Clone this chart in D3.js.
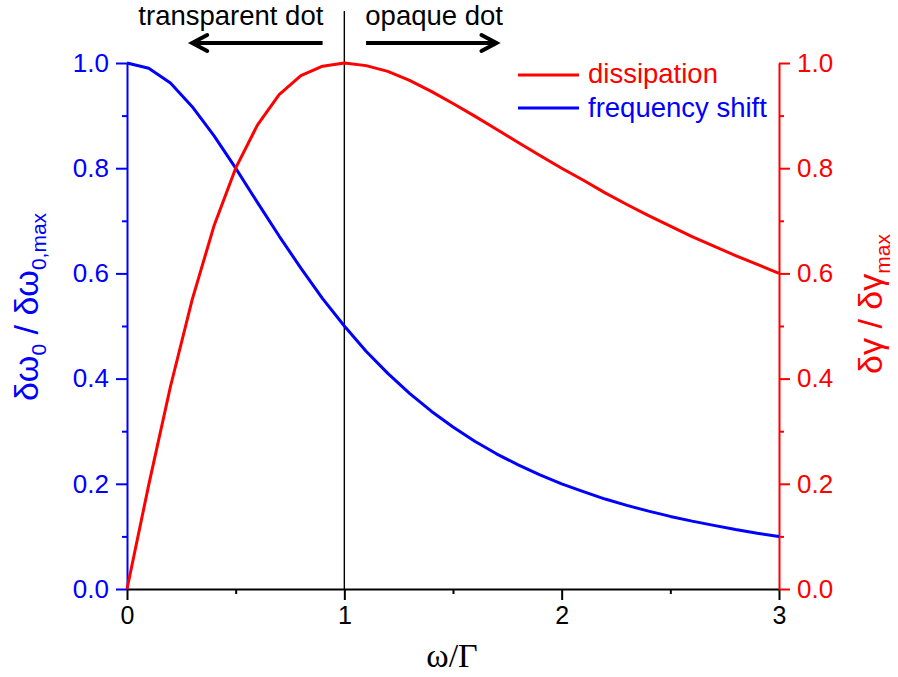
<!DOCTYPE html>
<html>
<head>
<meta charset="utf-8">
<script src="https://cdn.jsdelivr.net/npm/d3@7"></script>
<style>
  html, body { margin: 0; padding: 0; background: #fff; }
  svg { display: block; }
  text { font-family: Arial, "Liberation Sans", sans-serif; }
  text.serif { font-family: "Liberation Serif", "DejaVu Serif", serif; }
</style>
</head>
<body>
<svg id="chart" width="898" height="677"></svg>
<script>
// ω/Γ sample points
const omega = [0, 0.1, 0.2, 0.3, 0.4, 0.5, 0.6, 0.7, 0.8, 0.9,
               1.0, 1.1, 1.2, 1.3, 1.4, 1.5, 1.6, 1.7, 1.8, 1.9,
               2.0, 2.1, 2.2, 2.3, 2.4, 2.5, 2.6, 2.7, 2.8, 2.9, 3.0];
// normalised frequency shift δω0 / δω0,max
const freqShift = [1.000, 0.990, 0.962, 0.917, 0.862, 0.800, 0.735, 0.671, 0.610, 0.552,
                   0.500, 0.452, 0.410, 0.372, 0.338, 0.308, 0.281, 0.257, 0.236, 0.217,
                   0.200, 0.185, 0.171, 0.159, 0.148, 0.138, 0.129, 0.121, 0.113, 0.106, 0.100];
// normalised dissipation δγ / δγmax
const dissipation = [0.000, 0.198, 0.385, 0.550, 0.690, 0.800, 0.882, 0.940, 0.976, 0.994,
                     1.000, 0.995, 0.984, 0.967, 0.946, 0.923, 0.899, 0.874, 0.849, 0.824,
                     0.800, 0.777, 0.753, 0.731, 0.710, 0.690, 0.670, 0.652, 0.634, 0.617, 0.600];
const xTicks = [0, 1, 2, 3];
const xMinorTicks = [0.5, 1.5, 2.5];
const yTicks = [0, 0.2, 0.4, 0.6, 0.8, 1.0];
const yMinorTicks = [0.1, 0.3, 0.5, 0.7, 0.9];
const legendLabels = ["dissipation", "frequency shift"];
const regionLabels = ["transparent dot", "opaque dot"];

const BLUE = "#0000ff", RED = "#ff0000";
const svg = d3.select("#chart");
const m = { left: 127, top: 63, right: 779, bottom: 589 };

const x = d3.scaleLinear().domain([0, 3]).range([m.left, m.right]);
const yL = d3.scaleLinear().domain([0, 1]).range([m.bottom, m.top]);
const yR = d3.scaleLinear().domain([0, 1]).range([m.bottom, m.top]);

// axis helper: major ticks with labels, minor ticks without
function styleAxis(g, color) {
  g.selectAll("path.domain").attr("stroke", color).attr("stroke-width", 2);
  g.selectAll(".tick line").attr("stroke", color).attr("stroke-width", 2);
  g.selectAll(".tick text").attr("fill", color).attr("font-size", 26)
    .attr("font-family", "Arial, 'Liberation Sans', sans-serif");
}

// bottom axis
const gx = svg.append("g").attr("transform", `translate(0,${m.bottom})`)
  .call(d3.axisBottom(x).tickValues(xTicks).tickFormat(d3.format("d"))
    .tickSize(11).tickSizeOuter(0).tickPadding(6));
styleAxis(gx, "#000");
gx.selectAll(".tick text").attr("font-size", 25);
svg.append("g").attr("transform", `translate(0,${m.bottom})`)
  .call(d3.axisBottom(x).tickValues(xMinorTicks).tickFormat("").tickSize(5).tickSizeOuter(0))
  .call(g => { g.select("path.domain").remove(); g.selectAll(".tick line").attr("stroke", "#000").attr("stroke-width", 2); });

// left axis
const gl = svg.append("g").attr("transform", `translate(${m.left},0)`)
  .call(d3.axisLeft(yL).tickValues(yTicks).tickFormat(d3.format(".1f"))
    .tickSize(11).tickSizeOuter(0).tickPadding(7));
styleAxis(gl, BLUE);
svg.append("g").attr("transform", `translate(${m.left},0)`)
  .call(d3.axisLeft(yL).tickValues(yMinorTicks).tickFormat("").tickSize(5).tickSizeOuter(0))
  .call(g => { g.select("path.domain").remove(); g.selectAll(".tick line").attr("stroke", BLUE).attr("stroke-width", 2); });

// right axis
const gr = svg.append("g").attr("transform", `translate(${m.right},0)`)
  .call(d3.axisRight(yR).tickValues(yTicks).tickFormat(d3.format(".1f"))
    .tickSize(11).tickSizeOuter(0).tickPadding(7));
styleAxis(gr, RED);
svg.append("g").attr("transform", `translate(${m.right},0)`)
  .call(d3.axisRight(yR).tickValues(yMinorTicks).tickFormat("").tickSize(5).tickSizeOuter(0))
  .call(g => { g.select("path.domain").remove(); g.selectAll(".tick line").attr("stroke", RED).attr("stroke-width", 2); });

// ω = Γ boundary
svg.append("line")
  .attr("x1", x(1)).attr("x2", x(1))
  .attr("y1", 11).attr("y2", m.bottom)
  .attr("stroke", "#000").attr("stroke-width", 1.4);

// curves
const pts = (ys) => omega.map((w, i) => [w, ys[i]]);
const lineL = d3.line().x(d => x(d[0])).y(d => yL(d[1]));
const lineR = d3.line().x(d => x(d[0])).y(d => yR(d[1]));

svg.append("path").datum(pts(freqShift))
  .attr("d", lineL).attr("fill", "none")
  .attr("stroke", BLUE).attr("stroke-width", 3).attr("stroke-linejoin", "round");
svg.append("path").datum(pts(dissipation))
  .attr("d", lineR).attr("fill", "none")
  .attr("stroke", RED).attr("stroke-width", 3).attr("stroke-linejoin", "round");

// region annotations with arrows
const arrowY = 43;
svg.append("text").attr("x", x(1) - 21).attr("y", 25)
  .attr("text-anchor", "end").attr("font-size", 27.5).attr("fill", "#000")
  .text(regionLabels[0]);
svg.append("text").attr("x", x(1) + 21).attr("y", 25)
  .attr("text-anchor", "start").attr("font-size", 27.5).attr("fill", "#000")
  .text(regionLabels[1]);

function arrow(from, to) {
  const x0 = x(from), x1 = x(to);
  const dir = Math.sign(x1 - x0);
  svg.append("line").attr("x1", x0).attr("x2", x1 - dir * 2)
    .attr("y1", arrowY).attr("y2", arrowY)
    .attr("stroke", "#000").attr("stroke-width", 4);
  svg.append("path")
    .attr("d", `M${x1 - dir * 15},${arrowY - 8} L${x1},${arrowY} L${x1 - dir * 15},${arrowY + 8}`)
    .attr("fill", "none").attr("stroke", "#000").attr("stroke-width", 4)
    .attr("stroke-linecap", "round").attr("stroke-linejoin", "miter");
}
arrow(0.9, 0.3);
arrow(1.1, 1.7);

// legend
const legend = svg.append("g");
[[legendLabels[0], RED, 75, 83], [legendLabels[1], BLUE, 108, 117]].forEach(([label, color, ly, ty]) => {
  legend.append("line").attr("x1", 518).attr("x2", 579).attr("y1", ly).attr("y2", ly)
    .attr("stroke", color).attr("stroke-width", 3);
  legend.append("text").attr("x", 588).attr("y", ty)
    .attr("font-size", 27.5).attr("fill", color).text(label);
});

// axis titles
const tl = svg.append("text")
  .attr("transform", "translate(38,307) rotate(-90)")
  .attr("text-anchor", "middle").attr("font-size", 34).attr("fill", BLUE);
tl.append("tspan").text("δω");
tl.append("tspan").attr("font-size", 21).attr("dy", 8).text("0");
tl.append("tspan").attr("dy", -8).text(" / δω");
tl.append("tspan").attr("font-size", 21).attr("dy", 8).text("0,max");

const tr = svg.append("text")
  .attr("transform", "translate(882,304) rotate(-90)")
  .attr("text-anchor", "middle").attr("font-size", 34).attr("fill", RED);
tr.append("tspan").text("δγ / δγ");
tr.append("tspan").attr("font-size", 21).attr("dy", 8).text("max");

svg.append("text").attr("class", "serif").attr("x", 452).attr("y", 667)
  .attr("text-anchor", "middle").attr("font-size", 34)
  .attr("fill", "#000").text("ω/Γ");
</script>
</body>
</html>
